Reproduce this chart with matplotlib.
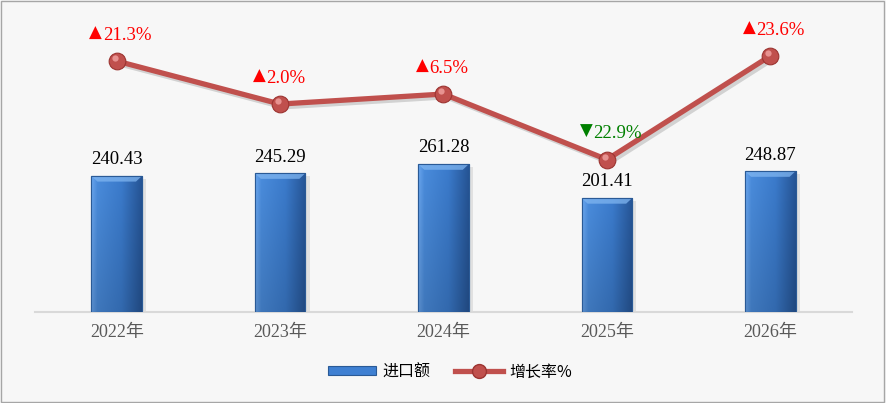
import matplotlib
matplotlib.use('Agg')
import matplotlib.pyplot as plt
import matplotlib.patheffects as pe
import matplotlib.transforms as mtransforms
from matplotlib.patches import Rectangle, Polygon
from matplotlib.lines import Line2D
import numpy as np

years = ['2022年', '2023年', '2024年', '2025年', '2026年']
imports = [240.43, 245.29, 261.28, 201.41, 248.87]
growth = [21.3, 2.0, 6.5, -22.9, 23.6]

plt.rcParams['font.family'] = ['Liberation Serif', 'Noto Sans CJK SC', 'DejaVu Sans']

W, H = 886, 403
fig = plt.figure(figsize=(W / 100, H / 100), dpi=100, facecolor='#f7f7f7')
fig.patches.append(Rectangle((0.001, 0.002), 0.997, 0.995, transform=fig.transFigure,
                             fill=False, edgecolor='#a6a6a6', linewidth=1))

ax = fig.add_axes([35 / W, 1 - 312 / H, 817 / W, 302 / H])
ax.set_facecolor('none')
ax2 = ax.twinx()

x = np.arange(len(years))
bw = 0.31

# gradient for the bars (light left edge, mid blue body, darker right edge)
gx = np.linspace(0, 1, 60)
stops = [0.0, 0.12, 0.6, 1.0]
cols = np.array([[0x6a, 0xa6, 0xee], [0x4a, 0x8c, 0xdc], [0x3b, 0x7b, 0xcc],
                 [0x26, 0x55, 0x96]]) / 255
row = np.stack([np.interp(gx, stops, cols[:, c]) for c in range(3)], axis=1)
gy = np.linspace(0, 1, 80)[:, None, None]
img = row[None, :, :] * (0.85 + 0.15 * gy)

bars = ax.bar(x, imports, width=bw, color='#3f80d2', edgecolor='#2a5a96', linewidth=0.8,
              zorder=2)
for rect, v in zip(bars, imports):
    rect.set_path_effects([pe.SimplePatchShadow(offset=(3, -2), shadow_rgbFace='#8c8c8c',
                                                alpha=0.2), pe.Normal()])
    x0 = rect.get_x()
    im = ax.imshow(img, extent=(x0, x0 + bw, 0, v), origin='lower', aspect='auto', zorder=3)
    im.set_clip_path(rect)
    # bevel on the top of the bar
    d = bw * 0.12
    top = Polygon([(x0, v), (x0 + bw, v), (x0 + bw - d, v - 10), (x0 + d, v - 10)],
                  closed=True, facecolor='#7fb5f0', edgecolor='none', alpha=0.75, zorder=4)
    ax.add_patch(top)
    ax.add_patch(Rectangle((x0, 0), bw, v, fill=False, edgecolor='#2a5a96', linewidth=0.8,
                           zorder=5))
    ax.annotate(f'{v:.2f}', (rect.get_x() + bw / 2, v), xytext=(0, 5.5),
                textcoords='offset points', ha='center', va='bottom', fontsize=13.5,
                color='black')

ax.set_xlim(-0.5, len(years) - 0.5)
ax.set_ylim(0, 533.6)
ax.set_xticks(x)
ax.set_xticklabels(years, fontsize=13, color='#595959')
ax.tick_params(axis='x', length=0, pad=9)
ax.set_yticks([])
for s in ['top', 'left', 'right']:
    ax.spines[s].set_visible(False)
ax.spines['bottom'].set_color('#d9d9d9')
ax.spines['bottom'].set_linewidth(1.5)

# growth line on the secondary axis
ax2.plot(x, growth, color='#c0504d', linewidth=3.8, solid_capstyle='round', zorder=3,
         path_effects=[pe.SimpleLineShadow(offset=(2, -2), alpha=0.15), pe.Normal()])
ax2.plot(x, growth, linestyle='none', marker='o', markersize=12, markerfacecolor='#c0504d',
         markeredgecolor='#9c3431', markeredgewidth=0.8, zorder=4)
hl = mtransforms.offset_copy(ax2.transData, fig=fig, x=-1.5, y=2, units='points')
ax2.plot(x, growth, linestyle='none', marker='o', markersize=4.5, markerfacecolor='#ec9a98',
         markeredgecolor='none', alpha=0.9, transform=hl, zorder=5)
for xi, g in zip(x, growth):
    if g >= 0:
        tri, col = '▲', '#ff0000'
    else:
        tri, col = '▼', '#008000'
    num = f'{abs(g):.1f}%'
    ax2.annotate(num, (xi, g), xytext=(-10, 12.5), textcoords='offset points', ha='left',
                 va='bottom', fontsize=13.5, color=col)
    ax2.annotate(tri, (xi, g), xytext=(-10.5, 14), textcoords='offset points', ha='right',
                 va='bottom', fontsize=12, color=col, family='DejaVu Sans')
ax2.set_ylim(-91.3, 44.2)
ax2.set_yticks([])
for s in ax2.spines.values():
    s.set_visible(False)

handles = [
    Rectangle((0, 0), 1, 1, facecolor='#3f80d2', edgecolor='#2a5a96', linewidth=0.8),
    Line2D([], [], color='#c0504d', linewidth=3.8, marker='o', markersize=10,
           markerfacecolor='#c0504d', markeredgecolor='#9c3431'),
]
fig.legend(handles, ['进口额', '增长率%'], loc='center', bbox_to_anchor=(450 / W, 1 - 372 / H),
           ncol=2, frameon=False, handlelength=3, handleheight=0.5,
           columnspacing=1.5, handletextpad=0.4,
           prop={'family': ['Noto Sans CJK SC', 'DejaVu Sans'], 'size': 11.5})

fig.savefig('out.png', dpi=100, facecolor=fig.get_facecolor())
